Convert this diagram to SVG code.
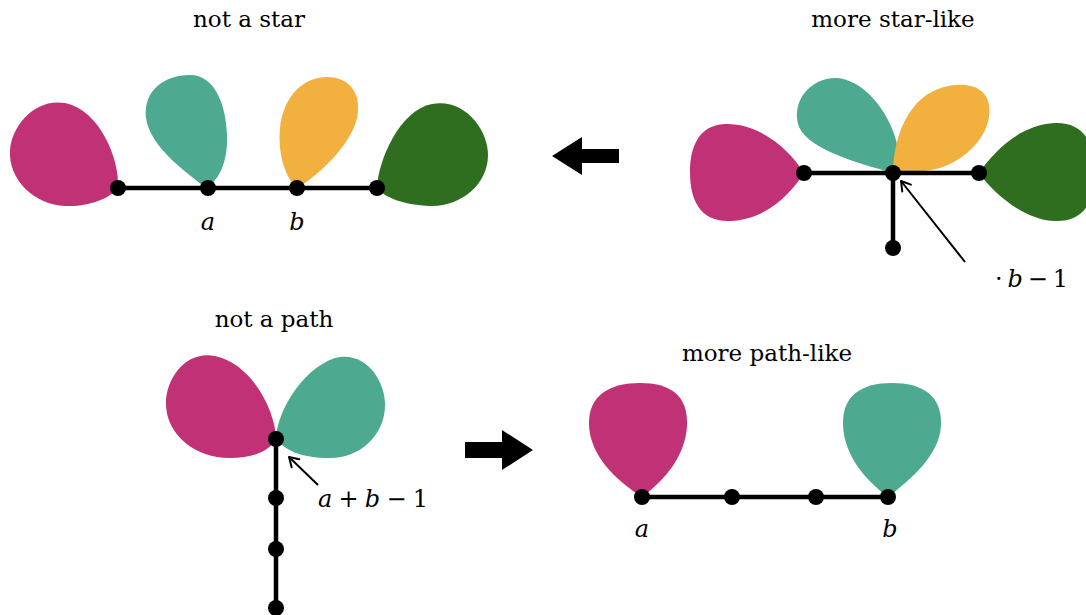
<svg xmlns="http://www.w3.org/2000/svg" width="1086" height="615" viewBox="0 0 1086 615">
<defs>
<marker id="open" viewBox="0 0 14 14" refX="12" refY="7" markerWidth="14" markerHeight="14" markerUnits="userSpaceOnUse" orient="auto">
<path d="M3,1.5 L12,7 L3,12.5" fill="none" stroke="#000" stroke-width="2" stroke-linecap="round" stroke-linejoin="round"/>
</marker>
</defs>
<style>
.title{font-family:"DejaVu Serif","Liberation Serif",serif;font-size:23px;fill:#000;text-anchor:middle}
.math{font-family:"DejaVu Serif","Liberation Serif",serif;font-size:24px;fill:#000}
.it{font-style:italic}
.mag{fill:#C13175}
.teal{fill:#4DA98F}
.yel{fill:#F2B13F}
.grn{fill:#2F6D1F}
.edge{stroke:#000;stroke-width:4.5;stroke-linecap:round;fill:none}
.dot{fill:#000}
.ann{stroke:#000;stroke-width:2;fill:none}
.big{fill:#000}
</style>

<text class="title" x="249" y="27">not a star</text>
<text class="title" x="893" y="27">more star-like</text>
<text class="title" x="274" y="327">not a path</text>
<text class="title" x="767" y="361">more path-like</text>

<g id="blobs-star">
<path class="mag" d="M118,188 C120,160 100,110 65,103 C35,98 12,125 10,150 C8,180 35,205 65,206 C90,207 110,198 118,188 Z"/>
<path class="teal" d="M206,188 C190,175 150,148 146,118 C143,90 165,75 190,75 C215,75 226,105 227,135 C228,160 220,180 206,188 Z"/>
<path class="yel" d="M297,188 C283,175 278,150 280,128 C283,98 302,77 327,77 C347,77 360,90 358,112 C356,140 320,175 297,188 Z"/>
<path class="grn" d="M377,188 C378,160 400,110 432,104 C465,98 488,130 488,155 C488,185 460,207 430,206 C405,205 385,198 377,188 Z"/>
</g>
<g id="blobs-starlike">
<path class="mag" d="M804,173 C790,150 760,123 725,124 C697,125 690,150 690,172 C690,200 700,222 730,221 C765,220 790,195 804,173 Z"/>
<path class="teal" d="M893,173 C870,166 810,152 799,127 C790,100 812,78 835,78 C862,78 888,110 896,140 C900,155 898,165 893,173 Z"/>
<path class="yel" d="M893,173 C893,150 900,115 925,96 C945,81 985,78 989,105 C993,135 965,160 940,168 C920,173 900,173 893,173 Z"/>
<path class="grn" d="M979,173 C995,150 1020,125 1055,123 C1085,122 1095,145 1095,172 C1095,200 1085,222 1055,221 C1025,220 995,195 979,173 Z"/>
</g>
<g id="blobs-path">
<path class="mag" d="M276,439 C276,415 255,365 215,356 C185,350 165,380 166,405 C167,435 195,458 230,458 C255,458 270,450 276,439 Z"/>
<path class="teal" d="M276,439 C276,415 300,370 335,358 C365,350 385,380 385,405 C385,435 360,458 330,458 C300,458 285,450 276,439 Z"/>
</g>
<g id="blobs-pathlike">
<path class="mag" d="M642,497 C615,480 590,455 589,425 C588,395 610,383 640,383 C670,383 688,395 687,425 C686,455 665,480 642,497 Z"/>
<path class="teal" d="M888,497 C865,480 844,455 843,425 C842,395 862,383 892,383 C922,383 942,395 941,425 C940,455 910,480 888,497 Z"/>
</g>

<g id="connectors">
<line class="edge" x1="118" y1="188" x2="377" y2="188"/>
<line class="edge" x1="804" y1="173" x2="979" y2="173"/>
<line class="edge" x1="893" y1="173" x2="893" y2="248"/>
<line class="edge" x1="276" y1="439" x2="276" y2="620"/>
<line class="edge" x1="642" y1="497" x2="888" y2="497"/>
<line class="ann" x1="965" y1="262" x2="901" y2="181" marker-end="url(#open)"/>
<line class="ann" x1="318" y1="485" x2="289" y2="457" marker-end="url(#open)"/>
<path class="big" d="M552,156 L582,137 L582,149 L619,149 L619,163 L582,163 L582,175 Z"/>
<path class="big" d="M533,450 L502,430 L502,442 L465,442 L465,458 L502,458 L502,470 Z"/>
</g>

<g id="n-star-1"><circle class="dot" cx="118" cy="188" r="8"/></g>
<g id="n-star-a"><circle class="dot" cx="208" cy="188" r="8"/></g>
<g id="n-star-b"><circle class="dot" cx="297" cy="188" r="8"/></g>
<g id="n-star-4"><circle class="dot" cx="377" cy="188" r="8"/></g>
<g id="n-sl-1"><circle class="dot" cx="804" cy="173" r="8"/></g>
<g id="n-sl-c"><circle class="dot" cx="893" cy="173" r="8"/></g>
<g id="n-sl-3"><circle class="dot" cx="979" cy="173" r="8"/></g>
<g id="n-sl-4"><circle class="dot" cx="893" cy="248" r="8"/></g>
<g id="n-p-1"><circle class="dot" cx="276" cy="439" r="8"/></g>
<g id="n-p-2"><circle class="dot" cx="276" cy="498" r="8"/></g>
<g id="n-p-3"><circle class="dot" cx="276" cy="549" r="8"/></g>
<g id="n-p-4"><circle class="dot" cx="276" cy="608" r="8"/></g>
<g id="n-pl-a"><circle class="dot" cx="642" cy="497" r="8"/></g>
<g id="n-pl-2"><circle class="dot" cx="732" cy="497" r="8"/></g>
<g id="n-pl-3"><circle class="dot" cx="816" cy="497" r="8"/></g>
<g id="n-pl-b"><circle class="dot" cx="888" cy="497" r="8"/></g>

<g id="labels">
<text class="math it" x="208" y="230" text-anchor="middle">a</text>
<text class="math it" x="297" y="230" text-anchor="middle">b</text>
<text class="math it" x="642" y="537" text-anchor="middle">a</text>
<text class="math it" x="890" y="537" text-anchor="middle">b</text>
<text class="math" x="318" y="507" textLength="110"><tspan class="it">a</tspan> + <tspan class="it">b</tspan> − 1</text>
<text class="math" x="995" y="287" textLength="73">· <tspan class="it">b</tspan> − 1</text>
</g>
</svg>
